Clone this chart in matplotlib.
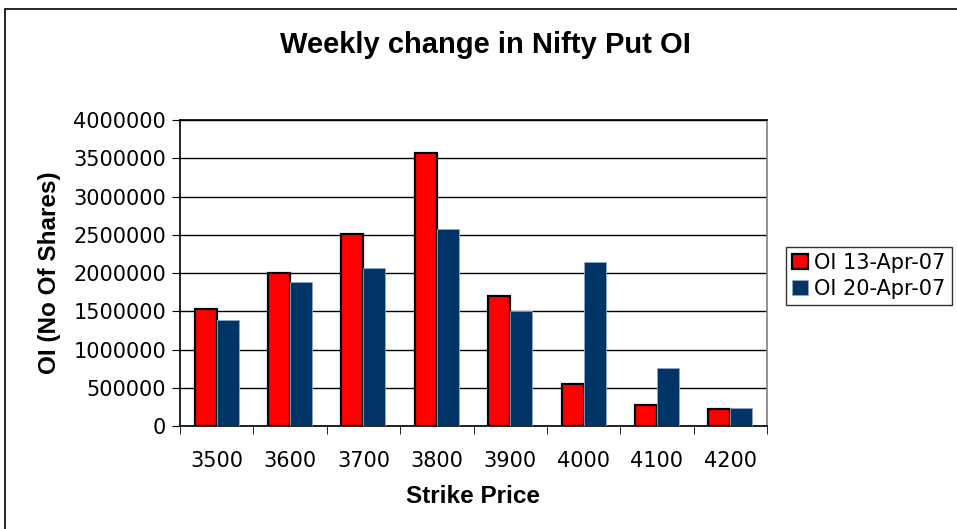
import matplotlib
matplotlib.use("Agg")
import matplotlib.pyplot as plt
import numpy as np
from matplotlib.patches import Rectangle

strikes = ["3500", "3600", "3700", "3800", "3900", "4000", "4100", "4200"]
oi_13apr = [1526000, 2000000, 2515000, 3575000, 1705000, 555000, 272000, 222000]
oi_20apr = [1390000, 1882000, 2060000, 2570000, 1504000, 2143000, 760000, 232000]
series_names = ["OI 13-Apr-07", "OI 20-Apr-07"]
yticks = [0, 500000, 1000000, 1500000, 2000000, 2500000, 3000000, 3500000, 4000000]

fig = plt.figure(figsize=(9.57, 5.29), dpi=100)
fig.patches.append(Rectangle((5/957, -0.01), 1.0, 1 - 9/529 + 0.01, transform=fig.transFigure,
                             fill=False, edgecolor="black", linewidth=1.2))
ax = fig.add_axes([180/957, 1 - 426/529, (767-180)/957, (426-120)/529])

x = np.arange(len(strikes))
w = 0.3
ax.bar(x - w/2, oi_13apr, w, color="#ff0000", edgecolor="black", linewidth=1.6,
       label=series_names[0], zorder=3)
ax.bar(x + w/2, oi_20apr, w, color="#003366", edgecolor="#8fa8c8", linewidth=0.6,
       label=series_names[1], zorder=3)

ax.set_xlim(-0.5, len(strikes) - 0.5)
ax.set_ylim(0, 4000000)
ax.set_yticks(yticks)
ax.set_yticklabels([str(v) for v in yticks], fontsize=15, family="DejaVu Sans")
ax.set_xticks(x)
ax.set_xticklabels(strikes, fontsize=15, family="DejaVu Sans")
ax.tick_params(axis="x", length=0, pad=18)
ax.set_xticks(np.arange(len(strikes) + 1) - 0.5, minor=True)
ax.tick_params(axis="x", which="minor", length=6, direction="out", color="black")
ax.tick_params(axis="y", length=6, direction="out", pad=4)
ax.yaxis.grid(True, color="black", linewidth=1.0, zorder=0)
ax.set_axisbelow(True)
for s in ["left", "bottom", "top"]:
    ax.spines[s].set_color("black")
    ax.spines[s].set_linewidth(1.2)
ax.spines["right"].set_color("#808080")
ax.spines["right"].set_linewidth(1.2)

ax.set_xlabel("Strike Price", fontsize=17.5, fontweight="bold", family="Liberation Sans", labelpad=10)
ax.set_ylabel("OI (No Of Shares)", fontsize=17.5, fontweight="bold", family="Liberation Sans", labelpad=9)
fig.text(485/957, 1 - 45/529, "Weekly change in Nifty Put OI", ha="center", va="center",
         fontsize=21, fontweight="bold", family="Liberation Sans")

leg = ax.legend(loc="center left", bbox_to_anchor=(786/957, 1 - 276/529), bbox_transform=fig.transFigure,
                prop={"family": "DejaVu Sans", "size": 15}, frameon=True, fancybox=False,
                handlelength=0.75, handleheight=0.75, handletextpad=0.3, borderpad=0.3,
                labelspacing=0.3, borderaxespad=0)
leg.get_frame().set_edgecolor("black")
leg.get_frame().set_linewidth(1.0)

fig.savefig("out.png", dpi=100)
